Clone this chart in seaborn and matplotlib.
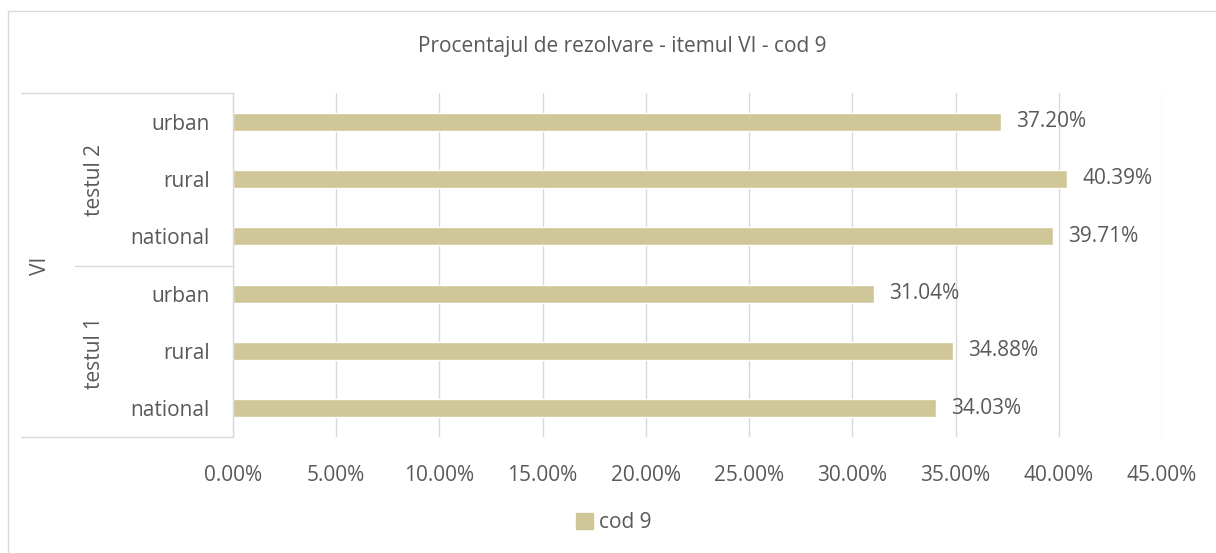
import pandas as pd
import seaborn as sns
import matplotlib.pyplot as plt
from matplotlib.lines import Line2D
from matplotlib.patches import Patch

# data, listed from top to bottom as in the chart
tests = ['testul 2', 'testul 2', 'testul 2', 'testul 1', 'testul 1', 'testul 1']
areas = ['urban', 'rural', 'national', 'urban', 'rural', 'national']
values = [37.20, 40.39, 39.71, 31.04, 34.88, 34.03]
ticks = [0, 5, 10, 15, 20, 25, 30, 35, 40, 45]

df = pd.DataFrame({'test': tests, 'area': areas, 'value': values})
df['key'] = df['test'] + ' / ' + df['area']

sns.set_style('white')
plt.rcParams['font.family'] = ['Open Sans', 'DejaVu Sans']
txt = '#595959'
grid = '#D9D9D9'
bar_col = '#CFC797'
fs = 15

W, H = 1216, 553
fig = plt.figure(figsize=(W / 100, H / 100), dpi=100)
ax = fig.add_axes([233 / W, 1 - 437 / H, (1162 - 233) / W, (437 - 93) / H])

sns.barplot(data=df, x='value', y='key', order=df['key'], color=bar_col,
            width=0.31, saturation=1, ax=ax)

ax.set_xlim(0, 45)
ax.set_xticks(ticks)
ax.set_xticklabels([f'{t:.2f}%' for t in ticks], color=txt, fontsize=fs)
ax.tick_params(axis='x', length=0, pad=20)
ax.set_yticks(range(len(df)))
ax.set_yticklabels(df['area'], color=txt, fontsize=fs)
ax.tick_params(axis='y', length=0, pad=17)
ax.set_xlabel('')
ax.set_ylabel('')
ax.grid(axis='x', color=grid, linewidth=1)
ax.set_axisbelow(True)
for s in ['top', 'right', 'bottom']:
    ax.spines[s].set_visible(False)
ax.spines['left'].set_color(grid)
ax.spines['left'].set_linewidth(1)

for i, v in enumerate(df['value']):
    ax.text(v + 0.75, i, f'{v:.2f}%', va='center', ha='left', color=txt, fontsize=fs)

# hierarchical category axis lines
def hline(y, x0, x1):
    fig.add_artist(Line2D([x0 / W, x1 / W], [1 - y / H, 1 - y / H], color=grid, lw=1))

hline(93, 21, 233)
hline(266, 75, 233)
hline(437, 21, 233)

fig.text(95 / W, 1 - 180 / H, 'testul 2', rotation=90, ha='center', va='center', color=txt, fontsize=fs)
fig.text(95 / W, 1 - 353 / H, 'testul 1', rotation=90, ha='center', va='center', color=txt, fontsize=fs)
fig.text(40 / W, 1 - 266 / H, 'VI', rotation=90, ha='center', va='center', color=txt, fontsize=fs)

# chart border
fig.add_artist(Line2D([8 / W, 8 / W], [0, 1 - 11 / H], color=grid, lw=1))
fig.add_artist(Line2D([8 / W, 1], [1 - 11 / H, 1 - 11 / H], color=grid, lw=1))

fig.text(622 / W, 1 - 47 / H, 'Procentajul de rezolvare - itemul VI - cod 9',
         ha='center', va='center', color=txt, fontsize=fs)

fig.legend(handles=[Patch(color=bar_col, label='cod 9')], loc='center',
           bbox_to_anchor=(614 / W, 1 - 523 / H), frameon=False, fontsize=fs,
           labelcolor=txt, handlelength=0.8, handleheight=0.8, handletextpad=0.3)

fig.savefig('out.png', dpi=100, facecolor='white')
